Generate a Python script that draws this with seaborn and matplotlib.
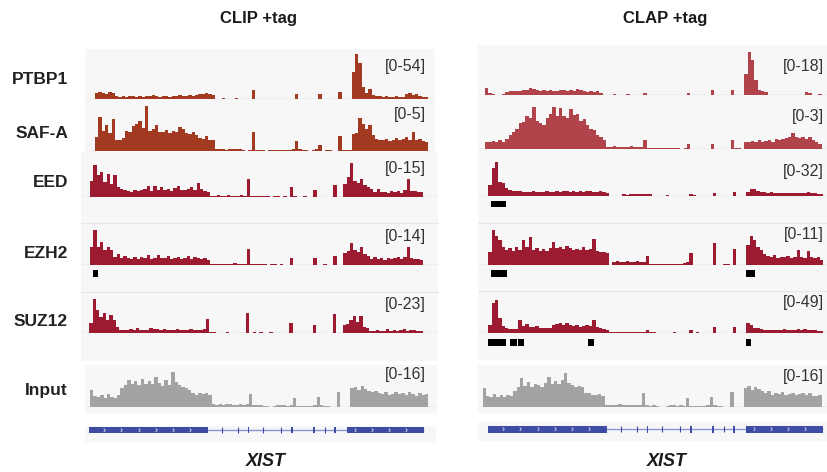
import numpy as np
import pandas as pd
import matplotlib
matplotlib.use("Agg")
import matplotlib.pyplot as plt
from matplotlib.patches import Rectangle
from matplotlib.lines import Line2D
import seaborn as sns

plt.rcParams['font.family'] = ['Liberation Sans', 'DejaVu Sans']

# ---------------- data ----------------
conditions = ["CLIP +tag", "CLAP +tag"]
proteins = ["PTBP1", "SAF-A", "EED", "EZH2", "SUZ12", "Input"]
ranges_clip = [54, 5, 15, 14, 23, 16]
ranges_clap = [18, 3, 32, 11, 49, 16]
bin_edges = np.arange(0, 101, 1)   # position along XIST, % of gene length

clip_ptbp1 = [7, 8, 7, 6, 8, 7, 4, 3, 4, 3,
              4, 4, 3, 4, 3, 4, 4, 5, 4, 3,
              4, 4, 3, 4, 4, 5, 4, 4, 5, 4,
              5, 6, 6, 7, 6, 5, 0, 0, 1, 0,
              0, 0, 1, 0, 0, 0, 0, 11, 0, 0,
              0, 0, 0, 0, 0, 0, 0, 0, 0, 0,
              6, 0, 0, 0, 0, 0, 0, 6, 0, 0,
              0, 0, 0, 9, 0, 0, 0, 33, 54, 43,
              15, 7, 12, 5, 4, 4, 3, 4, 3, 3,
              4, 3, 3, 6, 7, 5, 6, 4, 3, 3]
clip_safa = [1.6, 3.8, 2.3, 2.9, 2.0, 3.6, 1.2, 1.3, 1.5, 2.3,
             2.1, 2.8, 3.0, 3.4, 2.6, 5.0, 2.3, 2.5, 2.9, 2.2,
             2.1, 2.4, 2.0, 2.3, 2.2, 2.7, 2.5, 2.0, 1.9, 2.2,
             1.8, 1.5, 1.4, 1.7, 1.3, 1.2, 0.2, 0.2, 0.2, 0.15,
             0.2, 0.2, 0.2, 0.2, 0.1, 0.0, 0.1, 2.1, 0.1, 0.1,
             0.1, 0.0, 0.1, 0.1, 0.1, 0.1, 0.1, 0.1, 0.1, 0.3,
             1.1, 0.2, 0.1, 0.1, 0.0, 0.1, 0.2, 0.7, 0.0, 0.1,
             0.1, 0.0, 0.0, 1.7, 0.1, 0.1, 0.1, 1.9, 2.0, 3.7,
             3.0, 2.5, 2.9, 1.8, 1.4, 1.3, 1.2, 1.4, 1.1, 1.3,
             1.5, 1.2, 1.4, 1.6, 1.3, 2.1, 1.2, 1.4, 1.1, 1.0]
clip_eed = [7, 13.7, 9.3, 10.7, 6.3, 10, 5.6, 9.3, 4.1, 3.5,
            3.0, 2.6, 2.2, 2.8, 2.5, 2.7, 3.2, 4.5, 2.6, 4.8,
            3.0, 4.2, 2.7, 3.3, 2.5, 3.8, 4.5, 3.0, 2.8, 3.5,
            4.0, 2.9, 5.9, 3.3, 2.4, 2.0, 0.4, 0.3, 0.5, 0.3,
            0.4, 0.5, 0.3, 0.4, 0.3, 0.5, 0.3, 7.8, 0.3, 0.2,
            0.3, 0.4, 0.2, 0.3, 0.0, 0.4, 0.3, 0.0, 0.2, 0.0,
            4.4, 0.1, 0.0, 0.0, 0.1, 0.0, 0.0, 3.0, 0.0, 0.0,
            0.0, 0.0, 0.0, 4.9, 0.0, 0.0, 5.6, 8.5, 14.7, 7.0,
            6.0, 7.8, 5.0, 4.1, 3.4, 2.0, 3.4, 1.9, 2.2, 1.6,
            2.4, 1.9, 2.6, 1.7, 2.8, 7.8, 2.6, 2.3, 2.0, 1.8]
clip_ezh2 = [7.3, 14, 7.3, 9.3, 6.0, 7.3, 6.0, 3.3, 4.2, 2.8,
             3.5, 2.6, 2.4, 3.0, 2.5, 3.2, 2.6, 3.8, 2.4, 2.9,
             4.0, 2.6, 2.8, 3.5, 2.2, 2.7, 3.1, 2.5, 2.9, 3.6,
             2.4, 3.3, 2.7, 2.2, 2.9, 2.0, 0.5, 0.4, 0.5, 0.4,
             0.5, 0.4, 0.5, 0.6, 0.4, 0.5, 0.4, 6.3, 0.2, 0.2,
             0.3, 0.2, 0.2, 0.0, 0.2, 0.3, 0.0, 0.2, 0.0, 0.0,
             2.9, 0.0, 0.0, 0.0, 0.0, 0.0, 0.0, 2.7, 0.0, 0.0,
             0.5, 0.0, 0.0, 3.6, 0.0, 0.0, 4.7, 5.5, 8.7, 6.0,
             5.0, 7.3, 4.5, 3.6, 2.5, 3.0, 2.2, 2.6, 2.0, 2.9,
             2.3, 2.7, 3.2, 2.4, 3.0, 7.0, 2.6, 2.2, 2.4, 1.8]
clip_suz12 = [6.8, 23, 15.8, 11.3, 13.5, 9.0, 12.4, 9.0, 4.5, 2.5,
              2.0, 2.3, 2.8, 2.0, 3.4, 2.2, 2.5, 2.0, 3.6, 2.6,
              3.2, 2.3, 2.7, 2.2, 2.5, 2.0, 2.6, 2.3, 2.0, 2.4,
              2.8, 2.2, 2.5, 2.2, 2.6, 10.0, 1.1, 1.0, 0.0, 0.0,
              0.0, 1.0, 0.0, 0.0, 0.0, 0.0, 0.0, 13.5, 0.0, 0.7,
              0.0, 0.6, 0.0, 0.0, 0.6, 0.0, 0.0, 0.0, 0.0, 0.0,
              7.2, 0.0, 0.0, 0.0, 0.0, 0.0, 0.0, 5.6, 0.0, 0.0,
              0.0, 0.0, 0.0, 13.0, 0.0, 0.0, 5.6, 6.5, 9.0, 11.7,
              7.9, 11.7, 4.5, 3.5, 1.6, 1.5, 2.2, 1.5, 1.8, 3.0,
              1.6, 2.0, 1.4, 2.2, 2.8, 1.8, 2.5, 2.0, 1.8, 1.5]
clip_input = [7.5, 5.0, 4.5, 5.5, 4.2, 5.8, 4.6, 4.0, 5.2, 8.5,
              9.8, 12.2, 10.5, 11.6, 9.8, 12.5, 10.4, 11.9, 10.2, 13.7,
              11.0, 9.6, 12.4, 10.1, 16.0, 11.4, 9.9, 9.1, 8.7, 7.6,
              6.1, 5.5, 6.4, 5.8, 6.3, 5.2, 1.1, 1.0, 1.2, 0.9,
              1.1, 1.2, 0.9, 1.0, 1.3, 0.9, 1.1, 5.6, 0.8, 0.7,
              0.6, 0.5, 0.3, 0.0, 0.5, 0.6, 0.7, 0.6, 0.5, 0.6,
              3.8, 0.4, 0.3, 0.2, 0.3, 0.5, 0.8, 4.3, 0.6, 0.5,
              0.4, 0.0, 0.0, 6.9, 0.0, 0.0, 0.0, 8.4, 9.0, 7.5,
              9.4, 8.0, 7.0, 6.6, 7.2, 6.3, 5.8, 6.6, 5.4, 6.0,
              6.8, 5.7, 6.2, 5.4, 6.5, 5.9, 4.8, 6.1, 5.3, 6.0]

clap_ptbp1 = [2.8, 0.8, 0.5, 0.0, 0.0, 0.6, 1.4, 1.5, 1.7, 1.8,
              1.6, 1.9, 2.2, 2.8, 2.4, 2.0, 1.7, 1.9, 1.6, 2.1,
              1.8, 1.7, 2.0, 1.9, 1.6, 2.1, 1.7, 2.4, 2.2, 1.6,
              1.4, 1.7, 1.2, 1.5, 1.0, 0.0, 0.0, 0.0, 0.4, 0.0,
              0.0, 0.0, 0.4, 0.0, 0.0, 0.0, 0.0, 1.0, 0.0, 0.0,
              0.0, 0.0, 0.0, 0.0, 0.0, 0.0, 0.0, 0.0, 0.0, 0.0,
              1.0, 0.0, 0.0, 0.0, 0.0, 0.0, 0.0, 2.1, 0.0, 0.0,
              0.0, 0.0, 0.0, 2.1, 0.0, 0.0, 0.0, 9.0, 18.0, 14.8,
              6.3, 2.0, 1.6, 1.2, 0.0, 0.0, 0.0, 0.0, 0.0, 0.0,
              0.0, 0.0, 0.0, 0.0, 0.0, 1.1, 0.8, 0.0, 0.0, 0.4]
clap_safa = [0.5, 0.45, 0.55, 0.5, 0.6, 0.45, 0.7, 1.0, 1.2, 1.4,
             1.8, 1.9, 2.3, 2.2, 3.0, 2.0, 1.8, 1.7, 2.2, 2.5,
             3.0, 2.3, 2.9, 2.3, 2.2, 2.8, 2.4, 2.5, 2.0, 2.1,
             1.7, 1.4, 1.3, 1.0, 0.8, 0.6, 0.1, 0.12, 0.15, 0.1,
             0.12, 0.1, 0.12, 0.15, 0.12, 0.1, 0.12, 0.6, 0.02, 0.03,
             0.02, 0.03, 0.02, 0.03, 0.02, 0.03, 0.02, 0.03, 0.0, 0.02,
             0.3, 0.0, 0.0, 0.0, 0.0, 0.0, 0.0, 0.3, 0.0, 0.0,
             0.0, 0.0, 0.0, 0.6, 0.05, 0.05, 0.0, 0.5, 0.45, 0.55,
             0.5, 0.6, 0.5, 0.55, 0.6, 0.5, 0.65, 0.6, 0.7, 0.75,
             0.8, 1.1, 0.8, 0.75, 0.85, 0.7, 0.8, 0.6, 0.45, 0.3]
clap_eed = [10, 25, 31, 12.9, 11.4, 6.8, 5.2, 4.5, 3.9, 4.3,
            3.6, 3.8, 3.4, 4.1, 3.5, 3.8, 3.3, 4.0, 3.7, 3.5,
            4.3, 3.6, 3.9, 4.5, 3.7, 4.0, 3.8, 4.4, 3.6, 3.9,
            4.1, 3.4, 3.5, 4.2, 3.1, 2.9, 0.0, 0.0, 0.0, 0.0,
            1.2, 1.0, 1.3, 1.2, 1.1, 1.5, 1.3, 1.7, 1.2, 0.0,
            0.0, 0.0, 0.0, 1.0, 0.0, 0.0, 0.0, 0.0, 0.0, 0.0,
            2.0, 0.9, 0.0, 0.0, 0.0, 0.0, 0.0, 2.8, 0.0, 0.0,
            0.0, 0.0, 0.0, 3.7, 0.0, 0.0, 0.0, 3.7, 5.8, 6.0,
            4.5, 3.0, 3.3, 2.8, 3.0, 2.4, 2.2, 2.6, 2.1, 2.5,
            2.3, 2.8, 2.2, 2.6, 2.4, 3.0, 2.1, 2.3, 1.5, 1.8]
clap_ezh2 = [4.0, 11.0, 9.0, 7.9, 5.8, 4.7, 5.2, 4.5, 5.6, 4.8,
             7.9, 5.6, 8.9, 4.7, 5.2, 4.5, 5.0, 4.4, 5.3, 7.3,
             5.2, 5.8, 4.9, 6.0, 5.4, 4.7, 5.0, 4.6, 5.5, 4.8,
             5.0, 8.1, 4.5, 4.2, 4.0, 3.8, 0.0, 1.0, 1.1, 0.9,
             1.0, 1.2, 0.8, 1.0, 1.1, 0.9, 1.0, 2.8, 0.2, 0.3,
             0.2, 0.3, 0.2, 0.3, 0.2, 0.3, 0.2, 0.3, 0.6, 0.8,
             3.9, 0.0, 0.0, 0.0, 0.0, 0.0, 0.0, 6.8, 0.0, 0.0,
             0.3, 0.3, 0.0, 5.0, 0.0, 0.0, 0.0, 6.3, 9.1, 7.9,
             5.5, 4.7, 3.5, 2.8, 2.5, 3.0, 2.2, 2.6, 2.4, 2.8,
             2.3, 2.6, 4.7, 2.5, 2.3, 4.5, 2.4, 2.1, 2.6, 1.5]
clap_suz12 = [12, 45, 49, 22, 11, 8.0, 6.5, 5.9, 6.5, 19.6,
              10.5, 13.0, 9.5, 8.8, 10.2, 7.8, 7.2, 8.0, 7.4, 11.5,
              13.0, 14.7, 12.0, 15.2, 12.5, 10.8, 11.5, 9.8, 10.5, 12.0,
              10.2, 19.6, 9.0, 7.4, 6.5, 4.5, 1.5, 1.4, 1.6, 1.5,
              1.4, 1.6, 1.5, 1.8, 1.5, 1.4, 1.6, 4.9, 1.5, 1.2,
              1.0, 0.0, 0.0, 0.0, 0.0, 1.2, 0.0, 0.0, 0.0, 0.0,
              4.9, 0.0, 1.5, 0.0, 0.0, 0.0, 0.0, 9.8, 0.0, 0.0,
              0.0, 0.0, 0.0, 8.8, 0.0, 0.0, 0.0, 14.7, 12.5, 8.3,
              7.4, 6.8, 5.4, 4.9, 5.5, 4.6, 5.0, 4.9, 5.9, 4.7,
              5.2, 4.8, 5.6, 4.9, 6.2, 5.0, 4.6, 5.1, 3.5, 2.9]
clap_input = [8.5, 5.0, 4.3, 5.8, 4.6, 5.2, 4.3, 5.5, 4.8, 7.0,
              9.1, 13.0, 9.5, 11.4, 8.8, 10.3, 9.9, 9.2, 10.8, 13.7,
              10.5, 11.6, 10.2, 12.0, 15.2, 10.9, 9.9, 9.0, 9.6, 8.8,
              6.1, 6.3, 5.5, 5.3, 5.8, 4.9, 0.9, 1.0, 0.8, 0.9,
              1.1, 0.8, 1.0, 0.9, 0.8, 1.0, 0.9, 6.1, 0.6, 0.5,
              0.6, 0.4, 0.0, 0.0, 0.5, 0.6, 0.6, 0.5, 0.6, 0.5,
              3.8, 0.4, 0.3, 0.2, 0.3, 0.5, 0.6, 4.6, 0.6, 0.5,
              0.4, 0.0, 0.0, 6.9, 0.0, 0.0, 0.0, 8.4, 9.4, 7.6,
              8.8, 8.2, 7.0, 6.2, 7.0, 5.5, 6.3, 5.8, 6.5, 5.4,
              5.9, 6.4, 5.2, 5.8, 6.1, 5.4, 6.3, 5.0, 4.8, 5.5]

# called peaks (black boxes under tracks)
peak_condition = ["CLIP +tag", "CLAP +tag", "CLAP +tag", "CLAP +tag",
                  "CLAP +tag", "CLAP +tag", "CLAP +tag", "CLAP +tag", "CLAP +tag"]
peak_protein = ["EZH2", "EED", "EZH2", "EZH2",
                "SUZ12", "SUZ12", "SUZ12", "SUZ12", "SUZ12"]
peak_start = [0.9, 0.8, 0.8, 76.9, 0.0, 6.6, 9.0, 29.9, 77.0]
peak_end = [2.4, 5.2, 5.6, 79.6, 5.3, 8.5, 10.7, 31.7, 78.4]

# XIST gene model
exon_start = [0.0, 47.4, 60.3, 66.9, 73.2, 77.0]
exon_end = [35.5, 47.7, 60.8, 67.5, 73.7, 100.0]
strand_marks_exon = [4.5, 9.7, 14.9, 20.0, 25.2, 30.2, 79.4, 84.4, 89.6, 94.6]
strand_marks_intron = [39.7, 44.5, 52.0, 57.3, 70.4]
gene_name = "XIST"

tracks = {
    "CLIP +tag": [clip_ptbp1, clip_safa, clip_eed, clip_ezh2, clip_suz12, clip_input],
    "CLAP +tag": [clap_ptbp1, clap_safa, clap_eed, clap_ezh2, clap_suz12, clap_input],
}
ranges = {"CLIP +tag": ranges_clip, "CLAP +tag": ranges_clap}
for c in conditions:
    for t in tracks[c]:
        assert len(t) == len(bin_edges) - 1

# ---------------- layout (pixels) ----------------
W, H = 827, 472
DPI = 100

layout = {
    "CLIP +tag": dict(
        panels=[(84.5, 49, 434.5, 151.5), (80.7, 151.5, 437.7, 361), (85, 365, 436.7, 412.7)],
        gene_panel=(85, 425.7, 436.5, 441.7),
        seps=[223.0, 291.7],
        # baseline, height, px of pos 0, px of pos 100, range label y
        rows=[(99.0, 45, 95.0, 428.3, 66), (151.3, 45, 95.0, 428.3, 114),
              (196.5, 34, 90.0, 423.3, 168), (265.0, 35, 90.0, 423.3, 236),
              (333.3, 34, 89.3, 422.7, 305), (406.7, 35, 90.0, 428.3, 375)],
        gene_map=(89.0, 424.0), gene_y=(426.7, 433.3),
        title_x=258, xist_x=266, range_x=426,
        top_color="#a23a22",
    ),
    "CLAP +tag": dict(
        panels=[(478, 45, 827, 150.5), (478, 150.5, 827, 360), (478, 365, 827, 412.5)],
        gene_panel=(478, 422, 827, 440.5),
        seps=[222.7, 291.0],
        rows=[(95.0, 43, 485.0, 821.7, 67), (148.5, 42, 485.0, 821.7, 116),
              (195.7, 35, 488.3, 823.3, 172), (265.0, 35, 488.3, 823.3, 235),
              (333.3, 33.3, 488.3, 823.3, 303), (406.7, 35, 482.7, 821.7, 377)],
        gene_map=(488.0, 823.0), gene_y=(425.7, 432.7),
        title_x=665, xist_x=667, range_x=824,
        top_color="#b1434b",
    ),
}
row_panel = [0, 0, 1, 1, 1, 2]
row_label_y = [80, 133, 182.7, 254, 321.7, 390.7]
peak_band = {"EED": (200.7, 207.3), "EZH2": (270.0, 276.7), "SUZ12": (338.7, 345.7)}
PRC2_COLOR = "#9c1b31"
INPUT_COLOR = "#a3a3a3"
GENE_COLOR = "#3e4ca6"
INTRON_COLOR = "#8a94d6"
BG = "#f7f7f7"

fig = plt.figure(figsize=(W / DPI, H / DPI), dpi=DPI)
fig.patch.set_facecolor("white")


def frect(x0, y0, x1, y1):
    return [x0 / W, 1 - y1 / H, (x1 - x0) / W, (y1 - y0) / H]


def add_bg(x0, y0, x1, y1, color=BG):
    fig.add_artist(Rectangle((x0 / W, 1 - y1 / H), (x1 - x0) / W, (y1 - y0) / H,
                             transform=fig.transFigure, facecolor=color,
                             edgecolor="none", zorder=-2))


def add_hline(x0, x1, y, color, lw=0.8):
    fig.add_artist(Line2D([x0 / W, x1 / W], [1 - y / H, 1 - y / H],
                          transform=fig.transFigure, color=color, lw=lw, zorder=-1))


def xlim_for(x0, x1, p0, p100):
    s = (p100 - p0) / 100.0
    return ((x0 - p0) / s, (x1 - p0) / s)


for cond in conditions:
    L = layout[cond]
    for (x0, y0, x1, y1) in L["panels"]:
        add_bg(x0, y0, x1, y1)
    gx0, gy0, gx1, gy1 = L["gene_panel"]
    add_bg(gx0, gy0, gx1, gy1)
    bx0, _, bx1, _ = L["panels"][1]
    for sy in L["seps"]:
        add_hline(bx0, bx1, sy, "#e6e6e6", lw=0.8)

    for i, prot in enumerate(proteins):
        base, hgt, p0, p100, ly = L["rows"][i]
        px0, _, px1, _ = L["panels"][row_panel[i]]
        ax = fig.add_axes(frect(px0, base - hgt, px1, base))
        if i < 2:
            color = L["top_color"]
        elif prot == "Input":
            color = INPUT_COLOR
        else:
            color = PRC2_COLOR
        df = pd.DataFrame({"pos": bin_edges[:-1] + 0.5,
                           "cov": np.asarray(tracks[cond][i], dtype=float)})
        sns.histplot(data=df, x="pos", weights="cov", binwidth=1,
                     binrange=(0, 100), element="step", fill=True,
                     color=color, alpha=1, linewidth=0, ax=ax)
        ax.axhline(0, color="#b0b0b0", lw=0.9, zorder=0.5)
        ax.set_xlim(*xlim_for(px0, px1, p0, p100))
        ax.set_ylim(0, ranges[cond][i])
        ax.set_axis_off()
        fig.text(L["range_x"] / W, 1 - ly / H, f"[0-{ranges[cond][i]}]",
                 ha="right", va="center", fontsize=11.5, color="#333333")

        # peak boxes
        if prot in peak_band:
            starts = [s for c, p, s in zip(peak_condition, peak_protein, peak_start) if c == cond and p == prot]
            ends = [e for c, p, e in zip(peak_condition, peak_protein, peak_end) if c == cond and p == prot]
            if starts:
                py0, py1 = peak_band[prot]
                pax = fig.add_axes(frect(px0, py0, px1, py1))
                pax.broken_barh([(s, e - s) for s, e in zip(starts, ends)], (0, 1),
                                facecolor="black", edgecolor="none")
                pax.set_xlim(*xlim_for(px0, px1, p0, p100))
                pax.set_ylim(0, 1)
                pax.set_axis_off()

    # gene model
    g0, g100 = L["gene_map"]
    ya, yb = L["gene_y"]
    gax = fig.add_axes(frect(gx0, ya, gx1, yb))
    gax.plot([exon_start[0], exon_end[-1]], [0.5, 0.5], color=INTRON_COLOR, lw=1.0,
             solid_capstyle="butt", zorder=1)
    gax.broken_barh([(s, e - s) for s, e in zip(exon_start, exon_end)], (0, 1),
                    facecolor=GENE_COLOR, edgecolor="none", zorder=2)
    gax.plot(strand_marks_intron, [0.5] * len(strand_marks_intron), ls="none",
             marker="|", ms=4, mew=0.8, color=GENE_COLOR, zorder=2)
    for m in strand_marks_exon:
        gax.text(m, 0.5, "\u203a", color="white", fontsize=6.5,
                 ha="center", va="center", zorder=3)
    gax.set_xlim(*xlim_for(gx0, gx1, g0, g100))
    gax.set_ylim(0, 1)
    gax.set_axis_off()

    fig.text(L["title_x"] / W, 1 - 18 / H, cond, ha="center", va="center",
             fontsize=12, fontweight="bold", color="#1a1a1a")
    fig.text(L["xist_x"] / W, 1 - 462 / H, gene_name, ha="center", va="center",
             fontsize=13, fontweight="bold", style="italic", color="#1a1a1a")

for prot, y in zip(proteins, row_label_y):
    fig.text(68 / W, 1 - y / H, prot, ha="right", va="center",
             fontsize=12.5, fontweight="bold", color="#222222")

fig.savefig("out.png", dpi=DPI)
